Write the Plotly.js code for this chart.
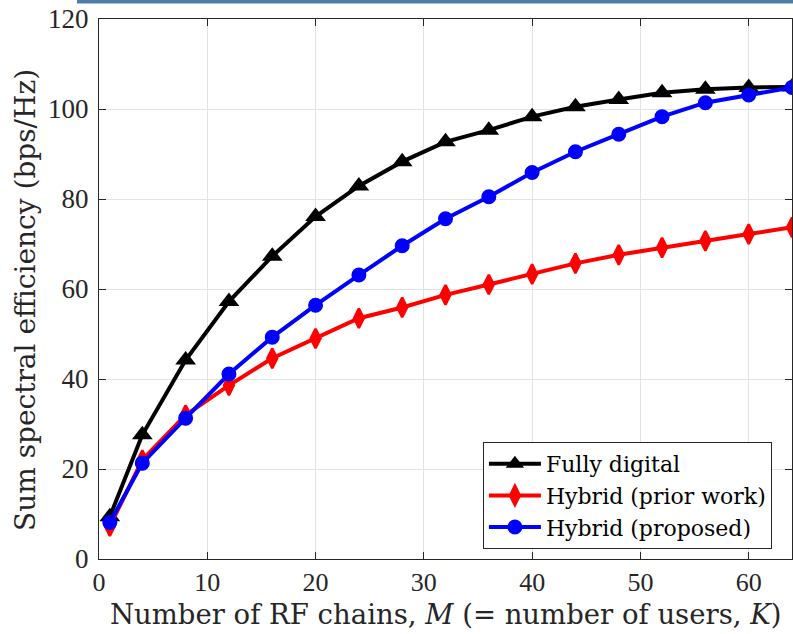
<!DOCTYPE html>
<html>
<head>
<meta charset="utf-8">
<script src="https://cdn.plot.ly/plotly-3.0.1.min.js"></script>
<style>html,body{margin:0;padding:0;background:#fff;}#chart{width:793px;height:634px;}</style>
</head>
<body>
<div id="chart"></div>
<script>
const rfChains = [1, 4, 8, 12, 16, 20, 24, 28, 32, 36, 40, 44, 48, 52, 56, 60, 64];
const fullyDigital = [9.4, 27.6, 44.2, 57.2, 67.3, 76.1, 82.9, 88.3, 92.7, 95.3, 98.3, 100.5, 102.1, 103.6, 104.4, 104.8, 104.9];
const hybridPrior = [7.3, 22.0, 32.0, 38.6, 44.6, 49.0, 53.5, 55.9, 58.7, 61.0, 63.3, 65.7, 67.6, 69.2, 70.7, 72.2, 73.7];
const hybridProposed = [8.1, 21.3, 31.3, 41.1, 49.3, 56.4, 63.1, 69.6, 75.6, 80.5, 85.9, 90.5, 94.4, 98.3, 101.4, 103.1, 104.8];
const seriesNames = ["Fully digital", "Hybrid (prior work)", "Hybrid (proposed)"];
const xTicks = [0, 10, 20, 30, 40, 50, 60];
const yTicks = [0, 20, 40, 60, 80, 100, 120];
const yTitle = "Sum spectral efficiency (bps/Hz)";
const xTitle = "Number of RF chains, <i>M</i> (= number of users, <i>K</i>)";

const tickFam = "Liberation Serif, Times New Roman, serif";
const textFam = "DejaVu Serif, serif";
const axisColor = "#262626";

const traces = [
  {x: rfChains, y: fullyDigital, name: seriesNames[0], mode: "lines+markers", type: "scatter",
   line: {color: "#000000", width: 4}, marker: {symbol: "triangle-up", size: 18, color: "#000000"}},
  {x: rfChains, y: hybridPrior, name: seriesNames[1], mode: "lines+markers", type: "scatter",
   line: {color: "#ff0000", width: 4}, marker: {symbol: "diamond-tall", size: 14, color: "#ff0000", line: {color: "#ff0000", width: 2.5}}},
  {x: rfChains, y: hybridProposed, name: seriesNames[2], mode: "lines+markers", type: "scatter",
   line: {color: "#0000ff", width: 4}, marker: {symbol: "circle", size: 13, color: "#0000ff", line: {color: "#0000ff", width: 2}}}
];

const layout = {
  width: 793, height: 634,
  margin: {l: 99, r: 1, t: 19, b: 75, pad: 0},
  paper_bgcolor: "#ffffff", plot_bgcolor: "#ffffff",
  showlegend: true,
  font: {family: textFam, color: axisColor},
  xaxis: {
    range: [0, 64], tickvals: xTicks, ticktext: xTicks.map(String),
    ticks: "inside", ticklen: 7, tickwidth: 1, tickcolor: axisColor,
    showline: true, linecolor: axisColor, linewidth: 1, mirror: "ticks",
    showgrid: true, gridcolor: "#e3e3e3", gridwidth: 1, zeroline: false,
    ticklabelstandoff: 0,
    tickfont: {family: tickFam, size: 26, color: axisColor}
  },
  yaxis: {
    range: [0, 120], tickvals: yTicks, ticktext: yTicks.map(String),
    ticks: "inside", ticklen: 7, tickwidth: 1, tickcolor: axisColor,
    showline: true, linecolor: axisColor, linewidth: 1, mirror: "ticks",
    ticklabelstandoff: 4,
    showgrid: true, gridcolor: "#e3e3e3", gridwidth: 1, zeroline: false,
    tickfont: {family: tickFam, size: 27, color: axisColor}
  },
  annotations: [
    {text: yTitle, xref: "paper", yref: "paper", x: -0.1068, y: 0.4796,
     xanchor: "center", yanchor: "middle", textangle: -90, showarrow: false,
     font: {family: textFam, size: 28, color: axisColor}},
    {text: xTitle, xref: "paper", yref: "paper", x: 0.5, y: -0.1025,
     xanchor: "center", yanchor: "middle", showarrow: false,
     font: {family: textFam, size: 27.5, color: axisColor}}
  ],
  legend: {
    x: 0.554, y: 0.2167, xanchor: "left", yanchor: "top",
    bgcolor: "#ffffff", bordercolor: axisColor, borderwidth: 1,
    font: {family: textFam, size: 22, color: "#000000"},
    itemwidth: 52, tracegroupgap: 0
  },
  shapes: [
    {type: "rect", xref: "paper", yref: "paper", x0: -0.0317, x1: 1.002, y0: 1.0287, y1: 1.036,
     fillcolor: "#4d7ea8", line: {width: 0}, layer: "above"}
  ]
};

Plotly.newPlot("chart", traces, layout, {displayModeBar: false, staticPlot: true});
</script>
</body>
</html>
